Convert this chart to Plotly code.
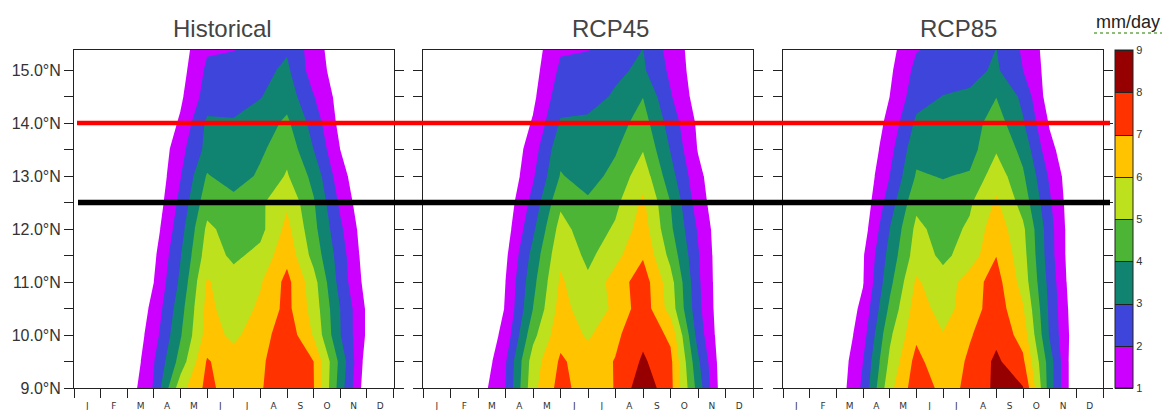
import plotly.graph_objects as go

# ---------------- data ----------------
months_x = list(range(13))                      # month boundaries (Jan start .. Dec end)
lats = [9.0, 9.5, 10.0, 10.5, 11.0, 11.5, 12.0, 12.5, 13.0, 13.5, 14.0, 14.5, 15.0, 15.38]
month_labels = ["J", "F", "M", "A", "M", "J", "J", "A", "S", "O", "N", "D"]
month_label_pos = [m + 0.5 for m in range(12)]
lat_tickvals = [9.0, 9.5, 10.0, 10.5, 11.0, 11.5, 12.0, 12.5, 13.0, 13.5, 14.0, 14.5, 15.0]
lat_ticktext = ["9.0°N", "", "10.0°N", "", "11.0°N", "", "12.0°N", "", "13.0°N", "", "14.0°N", "", "15.0°N"]
levels = [1, 2, 3, 4, 5, 6, 7, 8, 9]

hist_z = [
    [0, 0, 0.35, 2.1, 5.6, 7.3, 6.4, 6.9, 7.8, 7.05, 3.5, 0.3, 0],
    [0, 0, 0, 1.95, 4.4, 7.1, 6.4, 6.8, 7.8, 7.0, 3.7, 0.5, 0],
    [0, 0, 0, 1.55, 3.9, 6.4, 5.8, 6.5, 7.7, 5.9, 3.05, 0.85, 0],
    [0, 0, 0, 1.26, 3.6, 6.3, 5.4, 6.2, 7.3, 5.6, 3.0, 0.85, 0],
    [0, 0, 0, 1.0, 3.2, 6.1, 5.4, 5.9, 7.3, 5.4, 2.6, 0.6, 0],
    [0, 0, 0, 0.8, 2.95, 5.5, 4.8, 5.3, 6.7, 4.65, 2.5, 0.42, 0],
    [0, 0, 0, 0.5, 2.6, 5.2, 4.6, 4.7, 6.3, 4.3, 2.2, 0.3, 0],
    [0, 0, 0, 0.25, 2.28, 4.6, 4.4, 4.8, 5.85, 4.1, 1.8, 0.1, 0],
    [0, 0, 0, 0.1, 1.95, 4.1, 3.4, 4.2, 5.1, 3.7, 1.4, 0, 0],
    [0, 0, 0, 0, 1.68, 3.3, 3.3, 3.8, 4.7, 3.0, 1.0, 0, 0],
    [0, 0, 0, 0, 1.15, 3.2, 3.1, 3.5, 4.2, 2.6, 0.7, 0, 0],
    [0, 0, 0, 0, 0.82, 2.46, 2.6, 2.95, 3.6, 2.05, 0.6, 0, 0],
    [0, 0, 0, 0, 0.6, 2.2, 2.5, 2.7, 3.2, 1.5, 0.5, 0, 0],
    [0, 0, 0, 0, 0.5, 1.9, 1.97, 2.3, 2.9, 1.5, 0.28, 0, 0],
]

rcp45_z = [
    [0, 0, 0.44, 2.0, 5.7, 7.4, 6.4, 7.05, 8.7, 7.3, 3.6, 0, 0],
    [0, 0, 0, 1.9, 5.5, 7.15, 6.5, 7.05, 8.15, 7.25, 3.2, 0, 0],
    [0, 0, 0, 1.34, 4.7, 6.7, 5.85, 6.8, 7.75, 6.8, 2.6, 0, 0],
    [0, 0, 0, 1.05, 4.0, 6.4, 5.4, 6.2, 7.6, 5.6, 2.3, 0, 0],
    [0, 0, 0, 1.0, 3.7, 6.15, 5.2, 6.45, 7.55, 5.4, 2.2, 0, 0],
    [0, 0, 0, 0.8, 3.35, 5.8, 4.75, 5.7, 6.9, 4.7, 2.1, 0, 0],
    [0, 0, 0, 0.52, 2.8, 5.4, 4.4, 5.15, 6.5, 4.2, 1.9, 0, 0],
    [0, 0, 0, 0.34, 2.33, 4.8, 4.15, 4.75, 6.2, 4.0, 1.5, 0, 0],
    [0, 0, 0, 0.06, 1.87, 4.07, 3.6, 4.3, 5.6, 3.4, 1.27, 0, 0],
    [0, 0, 0, 0, 1.55, 3.7, 3.3, 3.9, 4.95, 2.95, 0.95, 0, 0],
    [0, 0, 0, 0, 1.1, 3.1, 3.15, 3.55, 4.45, 2.58, 0.82, 0, 0],
    [0, 0, 0, 0, 0.78, 2.6, 2.7, 3.1, 3.98, 2.1, 0.53, 0, 0],
    [0, 0, 0, 0, 0.6, 2.2, 2.5, 2.85, 3.15, 1.8, 0.42, 0, 0],
    [0, 0, 0, 0, 0.5, 1.9, 1.97, 2.4, 3.02, 1.62, 0.43, 0, 0],
]

rcp85_z = [
    [0, 0, 0.26, 2.2, 5.7, 7.6, 6.73, 7.15, 8.25, 8.05, 3.5, 0, 0],
    [0, 0, 0.15, 2.0, 5.2, 7.35, 6.2, 7.19, 8.2, 7.2, 3.5, 0, 0],
    [0, 0, 0, 1.58, 4.8, 6.8, 6.05, 6.9, 7.75, 6.6, 2.9, 0.3, 0],
    [0, 0, 0, 1.25, 4.2, 6.5, 5.6, 6.5, 7.55, 6.1, 2.8, 0.2, 0],
    [0, 0, 0, 0.94, 3.7, 6.15, 5.35, 6.55, 7.4, 5.6, 2.65, 0.05, 0],
    [0, 0, 0, 0.9, 3.35, 5.5, 4.8, 5.4, 6.98, 5.4, 2.44, 0, 0],
    [0, 0, 0, 0.53, 3.0, 5.25, 4.6, 5.15, 6.6, 5.2, 2.4, 0, 0],
    [0, 0, 0, 0.33, 2.48, 4.75, 4.35, 4.85, 6.15, 4.6, 2.15, 0, 0],
    [0, 0, 0, 0.21, 2.0, 4.1, 3.95, 4.1, 5.6, 4.15, 1.85, 0, 0],
    [0, 0, 0, 0, 1.67, 3.7, 3.5, 3.6, 4.9, 3.7, 1.3, 0, 0],
    [0, 0, 0, 0, 1.3, 3.2, 3.3, 3.5, 4.5, 3.1, 0.9, 0, 0],
    [0, 0, 0, 0, 1.0, 2.6, 3.03, 3.15, 3.98, 2.77, 0.45, 0, 0],
    [0, 0, 0, 0, 0.81, 2.28, 2.5, 2.7, 3.15, 2.0, 0.55, 0, 0],
    [0, 0, 0, 0, 0.65, 1.95, 2.3, 2.5, 3.02, 1.86, 0.5, 0, 0],
]

panel_titles = ["Historical", "RCP45", "RCP85"]
red_line_lat = 14.0
black_line_lat = 12.5
unit_label = "mm/day"

# ---------------- styling ----------------
# first colour = below lowest level (white), then one colour per 1 mm/day band
band_colors = ["#ffffff", "#cc00ff", "#3d45db", "#108470", "#4db535",
               "#bde11d", "#ffc300", "#ff3200", "#960000"]
edges = [0, 0.03125, 0.125, 0.25, 0.375, 0.5, 0.625, 0.75, 0.875, 1.0]
colorscale = []
for i, c in enumerate(band_colors):
    colorscale.append([edges[i], c])
    colorscale.append([edges[i + 1], c])

# the page has an 8px body margin; place the figure so page pixels match the reference
OFF = 8
W, H = 1174 - OFF, 410 - OFF
def px(x):
    return (x - OFF) / W
def py(y):
    return 1 - (y - OFF) / H

x_domains = [(74, 393.5), (423, 753), (783, 1103)]
y_top, y_bot = 50, 388
title_x = [222, 610, 958]

fig = go.Figure()
data_sets = [hist_z, rcp45_z, rcp85_z]
for i, z in enumerate(data_sets):
    sfx = "" if i == 0 else str(i + 1)
    fig.add_trace(go.Contour(
        x=months_x, y=lats, z=z,
        xaxis="x" + sfx, yaxis="y" + sfx,
        autocontour=False,
        contours=dict(start=levels[0], end=levels[-1], size=1, coloring="fill", showlines=False),
        line=dict(width=0, smoothing=0),
        colorscale=colorscale, zmin=levels[0], zmax=levels[-1],
        showscale=False, hoverinfo="skip",
    ))

# colour-key trace (off-screen data, supplies the banded colorbar)
fig.add_trace(go.Contour(
    x=[100, 101], y=[100, 101], z=[[1, 9], [1, 9]],
    xaxis="x", yaxis="y",
    autocontour=False,
    contours=dict(start=levels[0], end=levels[-1], size=1, coloring="fill", showlines=True),
    line=dict(width=1, color="#222222", smoothing=0),
    colorscale=colorscale, zmin=levels[0], zmax=levels[-1],
    showscale=True, hoverinfo="skip",
    colorbar=dict(
        x=px(1115), xanchor="left", y=py(388), yanchor="bottom",
        len=(388 - 50) / H, lenmode="fraction",
        thickness=18, thicknessmode="pixels",
        xpad=0, ypad=0,
        outlinewidth=1, outlinecolor="#222222",
        tickmode="array", tickvals=levels, ticktext=[str(v) for v in levels],
        ticks="", tickfont=dict(family="Liberation Sans", size=11, color="#333333"),
    ),
))

layout = dict(
    width=W, height=H, autosize=False,
    margin=dict(l=0, r=0, t=0, b=0, autoexpand=False),
    paper_bgcolor="white", plot_bgcolor="white",
    showlegend=False,
)
for i in range(3):
    sfx = "" if i == 0 else str(i + 1)
    top_sfx = str(i + 4)
    x0, x1 = x_domains[i]
    layout["xaxis" + sfx] = dict(
        domain=[px(x0), px(x1)], range=[0, 12], anchor="y" + sfx,
        tickmode="array", tickvals=month_label_pos, ticktext=month_labels,
        ticks="outside", ticklen=9, tickcolor="rgba(0,0,0,0)",
        minor=dict(tickmode="array", tickvals=months_x, ticks="outside",
                   ticklen=9, tickcolor="#222222", tickwidth=1),
        showline=True, linecolor="#222222", linewidth=1, mirror=True,
        showgrid=False, zeroline=False, automargin=False,
        tickfont=dict(family="DejaVu Sans", size=9, color="#333333"),
        fixedrange=True,
    )
    # short inward ticks along the top frame
    layout["xaxis" + top_sfx] = dict(
        domain=[px(x0), px(x1)], range=[0, 12], anchor="y" + sfx,
        overlaying="x" + sfx, side="top",
        tickmode="array", tickvals=months_x[1:-1], ticks="inside",
        ticklen=3, tickcolor="#222222", tickwidth=1,
        showticklabels=False, showline=False, showgrid=False, zeroline=False,
        automargin=False, fixedrange=True,
    )
    layout["yaxis" + sfx] = dict(
        domain=[py(y_bot), py(y_top)], range=[9.0, 15.38], anchor="x" + sfx,
        tickmode="array", tickvals=lat_tickvals, ticktext=lat_ticktext,
        showticklabels=(i == 0),
        ticks="outside", ticklen=9, tickcolor="#222222", tickwidth=1,
        showline=True, linecolor="#222222", linewidth=1, mirror="ticks",
        showgrid=False, zeroline=False, automargin=False,
        tickfont=dict(family="Liberation Sans", size=16, color="#333333"),
        fixedrange=True,
    )
fig.update_layout(**layout)

annotations = []
for i, t in enumerate(panel_titles):
    annotations.append(dict(
        text=t, x=px(title_x[i]), y=py(28), xref="paper", yref="paper",
        xanchor="center", yanchor="middle", showarrow=False,
        font=dict(family="Liberation Sans", size=24, color="#444444"),
    ))
annotations.append(dict(
    text=unit_label, x=px(1128), y=py(22), xref="paper", yref="paper",
    xanchor="center", yanchor="middle", showarrow=False,
    font=dict(family="Liberation Sans", size=18, color="#222222"),
))
fig.update_layout(annotations=annotations)

shapes = [
    dict(type="line", xref="paper", yref="y", x0=px(77), x1=px(1110),
         y0=red_line_lat, y1=red_line_lat, line=dict(color="#ff0000", width=4.5), layer="above"),
    dict(type="line", xref="paper", yref="y", x0=px(78), x1=px(1110),
         y0=black_line_lat, y1=black_line_lat, line=dict(color="#000000", width=5.5), layer="above"),
    dict(type="line", xref="paper", yref="paper", x0=px(1094), x1=px(1162),
         y0=py(33), y1=py(33), line=dict(color="#6aa84f", width=1.5, dash="dot"), layer="above"),
]
fig.update_layout(shapes=shapes)

fig.write_html("out.html")
